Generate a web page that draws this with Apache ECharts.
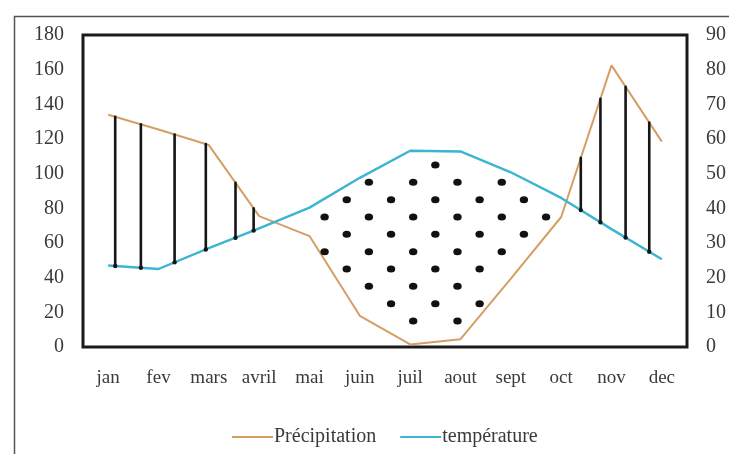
<!DOCTYPE html>
<html>
<head>
<meta charset="utf-8">
<script src="https://cdn.jsdelivr.net/npm/echarts@6/dist/echarts.min.js"></script>
<style>
html,body{margin:0;padding:0;background:#fff;}
#chart{width:729px;height:454px;}
</style>
</head>
<body>
<div id="chart"></div>
<script>
// ---- data ----
const categories = ['jan','fev','mars','avril','mai','juin','juil','aout','sept','oct','nov','dec'];
const precipitation = [134, 125.5, 116.5, 75.5, 64, 18, 1.5, 4.5, 39.5, 75, 162.5, 118.5];   // mm (left axis)
const temperature   = [23.5, 22.5, 28.5, 34.2, 40.2, 48.8, 56.6, 56.4, 50.4, 43, 34, 25.3]; // °C (right axis)
const leftTicks  = [0, 20, 40, 60, 80, 100, 120, 140, 160, 180];
const rightTicks = [0, 10, 20, 30, 40, 50, 60, 70, 80, 90];
// humid-period hatching, in category-index units
const hatchAt = [0.14, 0.65, 1.32, 1.94, 2.53, 2.89, 9.39, 9.78, 10.28, 10.75];

const textColor = '#3a3a3a';
const font = 'Liberation Serif';

const chart = echarts.init(document.getElementById('chart'), null, {renderer: 'canvas'});

function renderPattern(params, api) {
  if (params.dataIndex !== 0) return;
  const n = categories.length;
  const P = precipitation.map((v, i) => api.coord([i, v]));
  const T = temperature.map((v, i) => api.coord([i, v * 2]));
  function at(pts, f) {
    const i = Math.max(0, Math.min(Math.floor(f), n - 2));
    const t = f - i;
    return [pts[i][0] + (pts[i + 1][0] - pts[i][0]) * t, pts[i][1] + (pts[i + 1][1] - pts[i][1]) * t];
  }
  const children = [];
  hatchAt.forEach(f => {
    const a = at(P, f), b = at(T, f);
    children.push({type: 'line', shape: {x1: a[0], y1: a[1], x2: b[0], y2: b[1]},
      style: {stroke: '#151515', lineWidth: 2.6, lineCap: 'round'}});
    children.push({type: 'circle', shape: {cx: b[0], cy: b[1], r: 2.2}, style: {fill: '#151515'}});
  });
  // dry-period dots: staggered grid, kept where temperature curve lies above precipitation
  const col0 = 6.5, colStep = 0.44, row0 = 5, rowStep = 20, m = 6;
  for (let k = -8; k <= 6; k++) {
    const f = col0 + k * colStep;
    if (f < 0 || f > n - 1) continue;
    const p = at(P, f), t = at(T, f);
    const off = (k % 2 !== 0) ? rowStep / 2 : 0;
    for (let v = row0 + off; v < 180; v += rowStep) {
      const y = api.coord([0, v])[1];
      if (y > t[1] + m && y < p[1] - m) {
        children.push({type: 'circle', shape: {cx: p[0], cy: y, r: 3.5},
          scaleX: 1.2, originX: p[0], originY: y,
          style: {fill: '#111'}});
      }
    }
  }
  return {type: 'group', children: children};
}

const option = {
  backgroundColor: '#fff',
  animation: false,
  graphic: [{
    type: 'rect', left: 12, top: 14, z: -1, silent: true,
    shape: {width: 740, height: 460},
    style: {fill: 'none', stroke: '#555', lineWidth: 1.5}
  }],
  grid: {left: 83, right: 40, top: 35, bottom: 107, show: true,
    borderColor: '#1a1a1a', borderWidth: 3, backgroundColor: 'transparent'},
  legend: {
    data: ['Précipitation', 'température'],
    left: 227, top: 422,
    icon: 'rect',
    itemWidth: 41, itemHeight: 2, itemGap: 24,
    textStyle: {fontFamily: font, fontSize: 20, color: textColor, padding: [0, 0, 0, -4]}
  },
  xAxis: {
    type: 'category', data: categories, boundaryGap: true,
    axisLine: {show: false}, axisTick: {show: false}, splitLine: {show: false},
    axisLabel: {fontFamily: font, fontSize: 19, color: textColor, margin: 22, interval: 0, hideOverlap: false}
  },
  yAxis: [{
    type: 'value', min: leftTicks[0], max: leftTicks[leftTicks.length - 1], interval: leftTicks[1] - leftTicks[0],
    axisLine: {show: false}, axisTick: {show: false}, splitLine: {show: false},
    axisLabel: {fontFamily: font, fontSize: 20, color: textColor, margin: 19}
  }, {
    type: 'value', min: rightTicks[0], max: rightTicks[rightTicks.length - 1], interval: rightTicks[1] - rightTicks[0],
    position: 'right',
    axisLine: {show: false}, axisTick: {show: false}, splitLine: {show: false},
    axisLabel: {fontFamily: font, fontSize: 20, color: textColor, margin: 19}
  }],
  series: [{
    name: 'Précipitation', type: 'line', data: precipitation, yAxisIndex: 0,
    symbol: 'none', lineStyle: {color: '#D59E66', width: 2}, itemStyle: {color: '#D59E66'}, z: 2
  }, {
    name: 'température', type: 'line', data: temperature, yAxisIndex: 1,
    symbol: 'none', lineStyle: {color: '#3BB5D0', width: 2.4}, itemStyle: {color: '#3BB5D0'}, z: 2
  }, {
    name: 'pattern', type: 'custom', data: [[0, 0]], encode: {x: 0, y: 1},
    renderItem: renderPattern, silent: true, z: 3
  }]
};
chart.setOption(option);
</script>
</body>
</html>
